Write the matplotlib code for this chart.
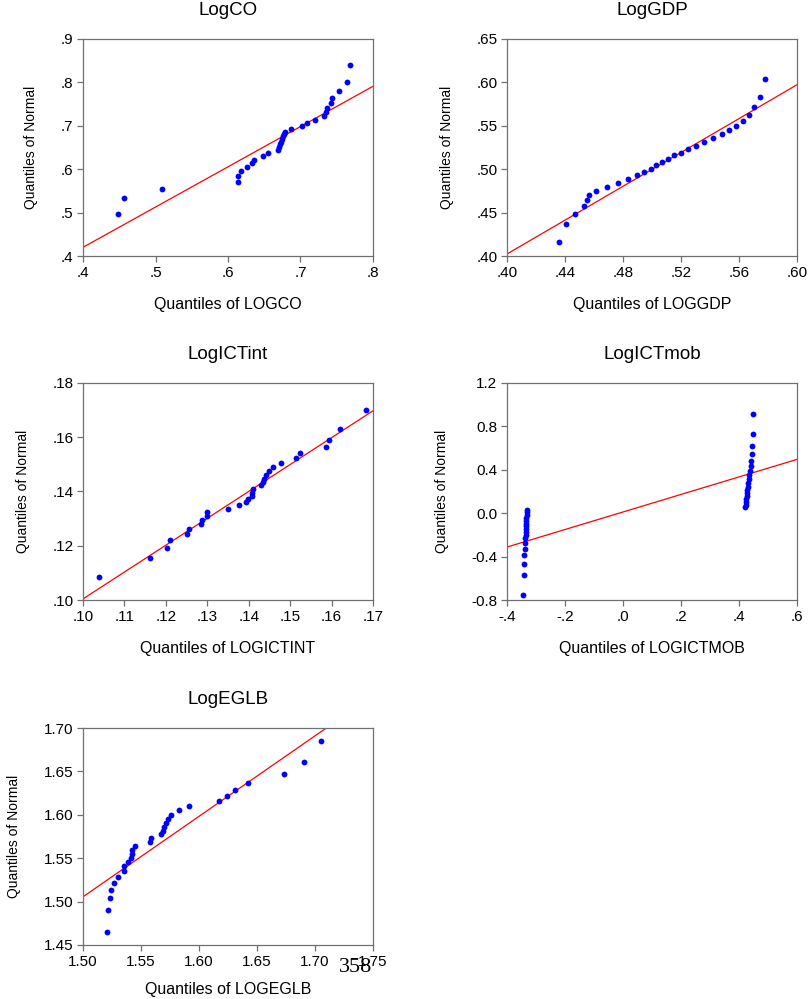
import matplotlib
matplotlib.use("Agg")
import matplotlib.pyplot as plt
from matplotlib.ticker import FixedLocator, FixedFormatter

plt.rcParams['font.family'] = ['Liberation Sans', 'DejaVu Sans']

# ---------------- data ----------------
co_x = [0.4478, 0.4566, 0.5094, 0.6133, 0.6133, 0.6175, 0.6262, 0.6336, 0.6359, 0.6487,
        0.6556, 0.6685, 0.6699, 0.6713, 0.6731, 0.6749, 0.6759, 0.6772, 0.6782, 0.6874,
        0.7021, 0.7094, 0.7195, 0.7329, 0.7352, 0.7370, 0.7416, 0.7434, 0.7536, 0.7646, 0.7683]
co_y = [0.4962, 0.5346, 0.5554, 0.5715, 0.5846, 0.5954, 0.6046, 0.6138, 0.6215, 0.6300,
        0.6369, 0.6446, 0.6515, 0.6577, 0.6638, 0.6692, 0.6754, 0.6808, 0.6854, 0.6923,
        0.7000, 0.7062, 0.7138, 0.7215, 0.7315, 0.7408, 0.7515, 0.7638, 0.7792, 0.8008, 0.8400]
co_line_x = [0.40, 0.80]
co_line_y = [0.420, 0.791]

gdp_x = [0.4361, 0.4409, 0.4471, 0.4533, 0.4549, 0.4566, 0.4616, 0.4692, 0.4768, 0.4837,
         0.4894, 0.4945, 0.4993, 0.5028, 0.5069, 0.5110, 0.5152, 0.5198, 0.5251, 0.5301,
         0.5356, 0.5418, 0.5485, 0.5533, 0.5579, 0.5628, 0.5669, 0.5706, 0.5743, 0.5777]
gdp_y = [0.4158, 0.4373, 0.4488, 0.4573, 0.4642, 0.4700, 0.4754, 0.4800, 0.4846, 0.4888,
         0.4931, 0.4969, 0.5004, 0.5046, 0.5081, 0.5119, 0.5158, 0.5192, 0.5231, 0.5273,
         0.5312, 0.5354, 0.5400, 0.5446, 0.5500, 0.5558, 0.5627, 0.5712, 0.5827, 0.6038]
gdp_line_x = [0.40, 0.60]
gdp_line_y = [0.4023, 0.5973]

int_x = [0.10378, 0.11625, 0.12036, 0.12092, 0.12502, 0.12559, 0.12840, 0.12872, 0.12993, 0.13001,
         0.13492, 0.13757, 0.13926, 0.13991, 0.14071, 0.14087, 0.14103, 0.14297, 0.14337, 0.14369,
         0.14425, 0.14490, 0.14594, 0.14779, 0.15133, 0.15246, 0.15866, 0.15938, 0.16203, 0.16831]
int_y = [0.10840, 0.11543, 0.11926, 0.12198, 0.12420, 0.12617, 0.12790, 0.12938, 0.13099, 0.13235,
         0.13358, 0.13494, 0.13617, 0.13728, 0.13852, 0.13951, 0.14086, 0.14235, 0.14358, 0.14469,
         0.14617, 0.14741, 0.14889, 0.15049, 0.15222, 0.15407, 0.15642, 0.15914, 0.16296, 0.16988]
int_line_x = [0.10, 0.17]
int_line_y = [0.1004, 0.16975]

mob_x = [-0.346, -0.343, -0.341, -0.340, -0.339, -0.338, -0.337, -0.336, -0.335, -0.335,
         -0.334, -0.334, -0.333, -0.333, -0.332, -0.332, -0.331,
         0.422, 0.423, 0.424, 0.425, 0.426, 0.428, 0.429, 0.430, 0.432, 0.433,
         0.436, 0.438, 0.440, 0.441, 0.444, 0.446, 0.448, 0.449]
mob_y = [-0.757, -0.570, -0.467, -0.389, -0.328, -0.275, -0.232, -0.200, -0.174, -0.148,
         -0.122, -0.096, -0.070, -0.044, -0.018, 0.008, 0.033,
         0.058, 0.080, 0.105, 0.129, 0.157, 0.184, 0.212, 0.244, 0.277, 0.311,
         0.348, 0.388, 0.435, 0.484, 0.549, 0.620, 0.728, 0.916]
mob_line_x = [-0.4, 0.6]
mob_line_y = [-0.312, 0.496]

eglb_x = [1.5207, 1.5213, 1.5236, 1.5241, 1.5270, 1.5305, 1.5351, 1.5356, 1.5385, 1.5414,
          1.5425, 1.5425, 1.5451, 1.5575, 1.5589, 1.5672, 1.5690, 1.5701, 1.5716, 1.5733,
          1.5761, 1.5828, 1.5914, 1.6170, 1.6244, 1.6310, 1.6420, 1.6736, 1.6902, 1.7052]
eglb_y = [1.4654, 1.4904, 1.5039, 1.5136, 1.5216, 1.5286, 1.5347, 1.5405, 1.5459, 1.5505,
          1.5552, 1.5598, 1.5644, 1.5690, 1.5729, 1.5775, 1.5817, 1.5860, 1.5906, 1.5952,
          1.5998, 1.6052, 1.6102, 1.6160, 1.6218, 1.6287, 1.6364, 1.6468, 1.6603, 1.6854]
eglb_line_x = [1.50, 1.75]
eglb_line_y = [1.5055, 1.7373]

titles = ["LogCO", "LogGDP", "LogICTint", "LogICTmob", "LogEGLB"]
xlabels = ["Quantiles of LOGCO", "Quantiles of LOGGDP", "Quantiles of LOGICTINT",
           "Quantiles of LOGICTMOB", "Quantiles of LOGEGLB"]

co_xt = [0.4, 0.5, 0.6, 0.7, 0.8]; co_xtl = [".4", ".5", ".6", ".7", ".8"]
co_yt = [0.4, 0.5, 0.6, 0.7, 0.8, 0.9]; co_ytl = [".4", ".5", ".6", ".7", ".8", ".9"]
gdp_xt = [0.40, 0.44, 0.48, 0.52, 0.56, 0.60]; gdp_xtl = [".40", ".44", ".48", ".52", ".56", ".60"]
gdp_yt = [0.40, 0.45, 0.50, 0.55, 0.60, 0.65]; gdp_ytl = [".40", ".45", ".50", ".55", ".60", ".65"]
int_xt = [0.10, 0.11, 0.12, 0.13, 0.14, 0.15, 0.16, 0.17]
int_xtl = [".10", ".11", ".12", ".13", ".14", ".15", ".16", ".17"]
int_yt = [0.10, 0.12, 0.14, 0.16, 0.18]; int_ytl = [".10", ".12", ".14", ".16", ".18"]
mob_xt = [-0.4, -0.2, 0.0, 0.2, 0.4, 0.6]; mob_xtl = ["-.4", "-.2", ".0", ".2", ".4", ".6"]
mob_yt = [-0.8, -0.4, 0.0, 0.4, 0.8, 1.2]; mob_ytl = ["-0.8", "-0.4", "0.0", "0.4", "0.8", "1.2"]
eglb_xt = [1.50, 1.55, 1.60, 1.65, 1.70, 1.75]
eglb_xtl = ["1.50", "1.55", "1.60", "1.65", "1.70", "1.75"]
eglb_yt = [1.45, 1.50, 1.55, 1.60, 1.65, 1.70]
eglb_ytl = ["1.45", "1.50", "1.55", "1.60", "1.65", "1.70"]

panels = [
    (co_x, co_y, co_line_x, co_line_y, co_xt, co_xtl, co_yt, co_ytl),
    (gdp_x, gdp_y, gdp_line_x, gdp_line_y, gdp_xt, gdp_xtl, gdp_yt, gdp_ytl),
    (int_x, int_y, int_line_x, int_line_y, int_xt, int_xtl, int_yt, int_ytl),
    (mob_x, mob_y, mob_line_x, mob_line_y, mob_xt, mob_xtl, mob_yt, mob_ytl),
    (eglb_x, eglb_y, eglb_line_x, eglb_line_y, eglb_xt, eglb_xtl, eglb_yt, eglb_ytl),
]

# ---------------- layout ----------------
W, H = 809, 999
fig = plt.figure(figsize=(W / 100, H / 100), dpi=100)
lefts = [83, 507, 83, 507, 83]
bottoms = [256, 256, 600, 600, 945]
xlabel_pads = [12.5, 12.5, 12.5, 12.5, 9.5]
aw, ah = 290, 217
frame = '#707070'

for i, (px, py, lx, ly, xt, xtl, yt, ytl) in enumerate(panels):
    ax = fig.add_axes([lefts[i] / W, 1 - bottoms[i] / H, aw / W, ah / H])
    ax.plot(lx, ly, color='red', lw=0.9, zorder=2)
    ax.plot(px, py, 'o', color='#0000FF', ms=4.2, mew=0, zorder=3)
    ax.set_xlim(xt[0], xt[-1])
    ax.set_ylim(yt[0], yt[-1])
    ax.xaxis.set_major_locator(FixedLocator(xt))
    ax.xaxis.set_major_formatter(FixedFormatter(xtl))
    ax.yaxis.set_major_locator(FixedLocator(yt))
    ax.yaxis.set_major_formatter(FixedFormatter(ytl))
    for s in ax.spines.values():
        s.set_color(frame)
        s.set_linewidth(0.9)
    ax.tick_params(direction='out', length=4, width=0.9, color=frame,
                   labelsize=11, pad=3, labelcolor='black')
    ax.set_title(titles[i], fontsize=13.5, pad=17)
    ax.set_xlabel(xlabels[i], fontsize=11.5, labelpad=xlabel_pads[i])
    ax.set_ylabel("Quantiles of Normal", fontsize=10, labelpad=16)

fig.text(356 / W, 1 - 968 / H, "358", family=['Liberation Serif', 'DejaVu Serif'],
         fontsize=16, ha='center', va='center')

fig.savefig("out.png", dpi=100)
